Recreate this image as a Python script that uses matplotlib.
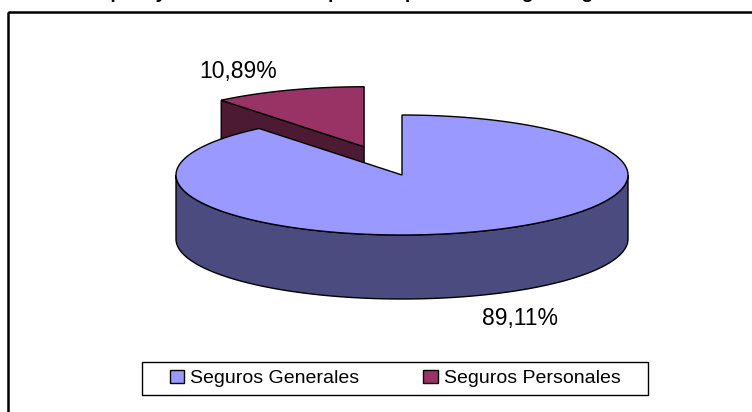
import numpy as np
import matplotlib
matplotlib.use("Agg")
import matplotlib.pyplot as plt
from matplotlib.patches import Polygon, Rectangle, Patch

# ---- data ----
categories = ["Seguros Generales", "Seguros Personales"]
values = [89.11, 10.89]
labels = ["89,11%", "10,89%"]
title = "Empleo y remuneraciones por compañías de seguros generales"

# ---- style / layout ----
top_colors = ["#9999FF", "#993366"]
side_colors = ["#4B4B80", "#4C1A33"]
FONT = "Liberation Sans"

W, H = 752, 412
fig = plt.figure(figsize=(W / 100, H / 100), dpi=100)
ax = fig.add_axes([0, 0, 1, 1])
ax.set_xlim(0, W)
ax.set_ylim(H, 0)
ax.axis("off")

cx, cy = 402, 175      # pie centre (pixels)
a, b = 226, 60         # ellipse semi-axes
depth = 64
explode_r = 0.5

total = sum(values)
pers_span = 360 * values[1] / total
pers_start, pers_end = 90.0, 90.0 + pers_span
gen_start, gen_end = pers_end, 450.0


def pt(theta, ox=0.0, oy=0.0, dz=0.0):
    t = np.deg2rad(theta)
    return (cx + ox + a * np.cos(t), cy + oy - b * np.sin(t) + dz)


def arc(t0, t1, ox=0.0, oy=0.0, dz=0.0, n=200):
    ts = np.linspace(t0, t1, n)
    return [pt(t, ox, oy, dz) for t in ts]


lw = 1.0
# ---- personal slice (exploded) ----
mid = np.deg2rad((pers_start + pers_end) / 2)
ox = explode_r * a * np.cos(mid)
oy = -explode_r * b * np.sin(mid)
c = (cx + ox, cy + oy)
p_end = pt(pers_end, ox, oy)
face = [c, p_end, (p_end[0], p_end[1] + depth), (c[0], c[1] + depth)]
ax.add_patch(Polygon(face, closed=True, facecolor=side_colors[1], edgecolor="black", lw=lw, zorder=2))
top = [c] + arc(pers_start, pers_end, ox, oy)
ax.add_patch(Polygon(top, closed=True, facecolor=top_colors[1], edgecolor="black", lw=lw, zorder=3))

# ---- generals slice ----
s0, s1 = max(gen_start, 180), min(gen_end, 360)
side = arc(s0, s1) + arc(s1, s0, dz=depth)
ax.add_patch(Polygon(side, closed=True, facecolor=side_colors[0], edgecolor="black", lw=lw, zorder=4))
top = [(cx, cy)] + arc(gen_start, gen_end)
ax.add_patch(Polygon(top, closed=True, facecolor=top_colors[0], edgecolor="black", lw=lw, zorder=5))

# ---- data labels ----
ax.text(520, 318, labels[0], fontsize=16.5, family=FONT, ha="center", va="center", zorder=6)
ax.text(238, 71, labels[1], fontsize=16.5, family=FONT, ha="center", va="center", zorder=6)

# ---- chart frame ----
ax.add_patch(Rectangle((8, 12), W + 20, H + 20, fill=False, edgecolor="black", lw=1.8, zorder=1))

# ---- legend ----
ax.add_patch(Rectangle((142, 362), 506, 33, fill=False, edgecolor="black", lw=1.0, zorder=6))
handles = [Patch(facecolor=top_colors[i], edgecolor="black", lw=1.0) for i in range(2)]
leg = ax.legend(handles, categories, loc="center", bbox_to_anchor=(395 / W, 1 - 378.5 / H),
                bbox_transform=fig.transFigure, ncol=2, frameon=False,
                prop={"family": FONT, "size": 14}, handlelength=0.75, handleheight=0.7,
                handletextpad=0.3, columnspacing=3.3, borderpad=0.2)

# ---- title (clipped at the top of the image, as in the reference) ----
fig.text(0.5, 1 + 2.5 / H, title, fontsize=14, fontweight="bold", family=FONT,
         ha="center", va="baseline")

fig.savefig("out.png", dpi=100)
